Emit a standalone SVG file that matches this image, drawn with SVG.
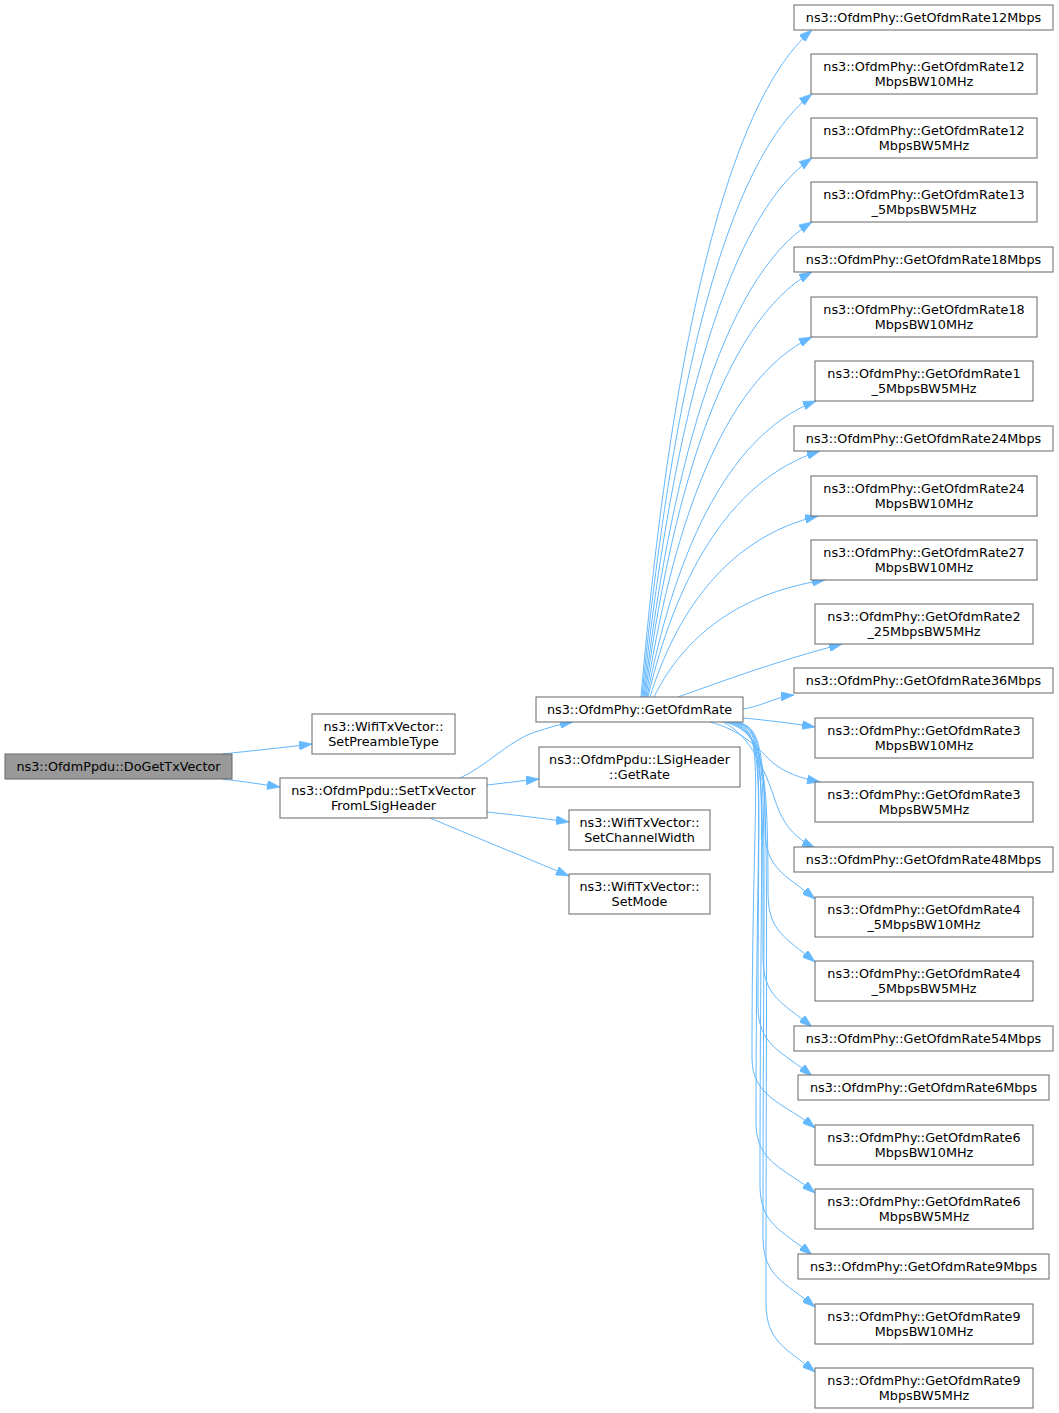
<svg xmlns="http://www.w3.org/2000/svg" width="1059" height="1413" viewBox="0 0 1059 1413">
<style>
.n rect{fill:#ffffff;stroke:#666666;stroke-width:1}
.n.root rect{fill:#999999}
.n text{font-family:"DejaVu Sans",Verdana,sans-serif;font-size:12.8px;fill:#000000;text-anchor:middle}
.e path{fill:none;stroke:#63b8ff;stroke-width:1;marker-end:url(#ah)}
</style>
<defs>
<marker id="ah" viewBox="0 0 10 7" refX="10" refY="3.5" markerWidth="13" markerHeight="9" markerUnits="userSpaceOnUse" orient="auto" preserveAspectRatio="none">
<path d="M0,0 L10,3.5 L0,7 z" fill="#63b8ff" stroke="#63b8ff" stroke-width="0.5"/>
</marker>
</defs>
<rect x="0" y="0" width="1059" height="1413" fill="#ffffff"/>
<g id="connectors" class="e">
<path d="M222,754 C250,751 280,748 312,744"/>
<path d="M222,779 C240,781 260,784 280,787"/>
<path d="M460,778 C485,767 510,740 535,732 C548,728 560,724 573,722"/>
<path d="M487,785 C505,783 520,781 539,779"/>
<path d="M487,812 C515,815 540,818 569,822"/>
<path d="M430,818 C470,835 520,855 569,876"/>
<path d="M641,697 C666.7,396.9 718,110 812,30"/>
<path d="M642,697 C667.5,425.7 718.5,166.4 812,94"/>
<path d="M643,697 C668.4,454.5 719,222.7 812,158"/>
<path d="M644,697 C669.2,483.3 719.6,279 812,222"/>
<path d="M645,697 C670,505.7 720.2,323 812,272"/>
<path d="M646,697 C670.9,535 720.7,380.2 812,337"/>
<path d="M647,697 C672.4,563.8 723,436.5 816,401"/>
<path d="M648,697 C673.8,586.3 725.4,480.5 820,451"/>
<path d="M650,697 C675.2,615.5 725.6,537.7 818,516"/>
<path d="M654,697 C679.7,644.4 731,594 825,580"/>
<path d="M678,697 C720,682 780,660 842,644"/>
<path d="M743,709 C760,707 775,697 794,695"/>
<path d="M743,718 C765,720 790,723 815,727"/>
<path d="M710,722 C740,730 755,745 772,762 C785,773 800,778 820,782"/>
<path d="M723,722 C750,735 765,770 775,800 C783,825 795,838 815,848"/>
<path d="M725,722 C760,732 765,760 765,829 C765,869 785,874 815,899"/>
<path d="M727,722 C762,732 768,760 768,892 C768,932 785,937 815,962"/>
<path d="M729,722 C764,732 763,760 763,957 C763,997 782,1002 812,1027"/>
<path d="M731,722 C766,732 758,760 758,1006 C758,1046 782,1051 812,1076"/>
<path d="M733,722 C768,732 752,760 752,1058 C752,1098 785,1103 815,1128"/>
<path d="M735,722 C770,732 756,760 756,1123 C756,1163 785,1168 815,1193"/>
<path d="M736,722 C771,732 760,760 760,1185 C760,1225 782,1230 812,1255"/>
<path d="M737,722 C772,732 763,760 763,1237 C763,1277 785,1282 815,1307"/>
<path d="M738,722 C773,732 766,760 766,1302 C766,1342 785,1347 815,1372"/>
</g>
<g id="n_DoGetTxVector" class="n root"><rect x="5" y="754" width="227" height="25"/><text x="118.5" y="771">ns3::OfdmPpdu::DoGetTxVector</text></g>
<g id="n_SetPreambleType" class="n"><rect x="312" y="714" width="143" height="40"/><text x="383.5" y="730.5">ns3::WifiTxVector::</text><text x="383.5" y="745.5">SetPreambleType</text></g>
<g id="n_SetTxVectorFromLSigHeader" class="n"><rect x="280" y="778" width="207" height="40"/><text x="383.5" y="794.5">ns3::OfdmPpdu::SetTxVector</text><text x="383.5" y="809.5">FromLSigHeader</text></g>
<g id="n_GetOfdmRate" class="n"><rect x="536" y="697" width="207" height="25"/><text x="639.5" y="714">ns3::OfdmPhy::GetOfdmRate</text></g>
<g id="n_LSigHeaderGetRate" class="n"><rect x="539" y="747" width="201" height="40"/><text x="639.5" y="763.5">ns3::OfdmPpdu::LSigHeader</text><text x="639.5" y="778.5">::GetRate</text></g>
<g id="n_SetChannelWidth" class="n"><rect x="569" y="810" width="141" height="40"/><text x="639.5" y="826.5">ns3::WifiTxVector::</text><text x="639.5" y="841.5">SetChannelWidth</text></g>
<g id="n_SetMode" class="n"><rect x="569" y="874" width="141" height="40"/><text x="639.5" y="890.5">ns3::WifiTxVector::</text><text x="639.5" y="905.5">SetMode</text></g>
<g id="n_12Mbps" class="n"><rect x="794" y="5" width="259" height="25"/><text x="923.5" y="22">ns3::OfdmPhy::GetOfdmRate12Mbps</text></g>
<g id="n_12MbpsBW10MHz" class="n"><rect x="811" y="54" width="226" height="40"/><text x="924" y="70.5">ns3::OfdmPhy::GetOfdmRate12</text><text x="924" y="85.5">MbpsBW10MHz</text></g>
<g id="n_12MbpsBW5MHz" class="n"><rect x="811" y="118" width="226" height="40"/><text x="924" y="134.5">ns3::OfdmPhy::GetOfdmRate12</text><text x="924" y="149.5">MbpsBW5MHz</text></g>
<g id="n_13_5MbpsBW5MHz" class="n"><rect x="811" y="182" width="226" height="40"/><text x="924" y="198.5">ns3::OfdmPhy::GetOfdmRate13</text><text x="924" y="213.5">_5MbpsBW5MHz</text></g>
<g id="n_18Mbps" class="n"><rect x="794" y="247" width="259" height="25"/><text x="923.5" y="264">ns3::OfdmPhy::GetOfdmRate18Mbps</text></g>
<g id="n_18MbpsBW10MHz" class="n"><rect x="811" y="297" width="226" height="40"/><text x="924" y="313.5">ns3::OfdmPhy::GetOfdmRate18</text><text x="924" y="328.5">MbpsBW10MHz</text></g>
<g id="n_1_5MbpsBW5MHz" class="n"><rect x="815" y="361" width="218" height="40"/><text x="924" y="377.5">ns3::OfdmPhy::GetOfdmRate1</text><text x="924" y="392.5">_5MbpsBW5MHz</text></g>
<g id="n_24Mbps" class="n"><rect x="794" y="426" width="259" height="25"/><text x="923.5" y="443">ns3::OfdmPhy::GetOfdmRate24Mbps</text></g>
<g id="n_24MbpsBW10MHz" class="n"><rect x="811" y="476" width="226" height="40"/><text x="924" y="492.5">ns3::OfdmPhy::GetOfdmRate24</text><text x="924" y="507.5">MbpsBW10MHz</text></g>
<g id="n_27MbpsBW10MHz" class="n"><rect x="811" y="540" width="226" height="40"/><text x="924" y="556.5">ns3::OfdmPhy::GetOfdmRate27</text><text x="924" y="571.5">MbpsBW10MHz</text></g>
<g id="n_2_25MbpsBW5MHz" class="n"><rect x="815" y="604" width="218" height="40"/><text x="924" y="620.5">ns3::OfdmPhy::GetOfdmRate2</text><text x="924" y="635.5">_25MbpsBW5MHz</text></g>
<g id="n_36Mbps" class="n"><rect x="794" y="668" width="259" height="25"/><text x="923.5" y="685">ns3::OfdmPhy::GetOfdmRate36Mbps</text></g>
<g id="n_3MbpsBW10MHz" class="n"><rect x="815" y="718" width="218" height="40"/><text x="924" y="734.5">ns3::OfdmPhy::GetOfdmRate3</text><text x="924" y="749.5">MbpsBW10MHz</text></g>
<g id="n_3MbpsBW5MHz" class="n"><rect x="815" y="782" width="218" height="40"/><text x="924" y="798.5">ns3::OfdmPhy::GetOfdmRate3</text><text x="924" y="813.5">MbpsBW5MHz</text></g>
<g id="n_48Mbps" class="n"><rect x="794" y="847" width="259" height="25"/><text x="923.5" y="864">ns3::OfdmPhy::GetOfdmRate48Mbps</text></g>
<g id="n_4_5MbpsBW10MHz" class="n"><rect x="815" y="897" width="218" height="40"/><text x="924" y="913.5">ns3::OfdmPhy::GetOfdmRate4</text><text x="924" y="928.5">_5MbpsBW10MHz</text></g>
<g id="n_4_5MbpsBW5MHz" class="n"><rect x="815" y="961" width="218" height="40"/><text x="924" y="977.5">ns3::OfdmPhy::GetOfdmRate4</text><text x="924" y="992.5">_5MbpsBW5MHz</text></g>
<g id="n_54Mbps" class="n"><rect x="794" y="1026" width="259" height="25"/><text x="923.5" y="1043">ns3::OfdmPhy::GetOfdmRate54Mbps</text></g>
<g id="n_6Mbps" class="n"><rect x="798" y="1075" width="251" height="25"/><text x="923.5" y="1092">ns3::OfdmPhy::GetOfdmRate6Mbps</text></g>
<g id="n_6MbpsBW10MHz" class="n"><rect x="815" y="1125" width="218" height="40"/><text x="924" y="1141.5">ns3::OfdmPhy::GetOfdmRate6</text><text x="924" y="1156.5">MbpsBW10MHz</text></g>
<g id="n_6MbpsBW5MHz" class="n"><rect x="815" y="1189" width="218" height="40"/><text x="924" y="1205.5">ns3::OfdmPhy::GetOfdmRate6</text><text x="924" y="1220.5">MbpsBW5MHz</text></g>
<g id="n_9Mbps" class="n"><rect x="798" y="1254" width="251" height="25"/><text x="923.5" y="1271">ns3::OfdmPhy::GetOfdmRate9Mbps</text></g>
<g id="n_9MbpsBW10MHz" class="n"><rect x="815" y="1304" width="218" height="40"/><text x="924" y="1320.5">ns3::OfdmPhy::GetOfdmRate9</text><text x="924" y="1335.5">MbpsBW10MHz</text></g>
<g id="n_9MbpsBW5MHz" class="n"><rect x="815" y="1368" width="218" height="40"/><text x="924" y="1384.5">ns3::OfdmPhy::GetOfdmRate9</text><text x="924" y="1399.5">MbpsBW5MHz</text></g>
</svg>
